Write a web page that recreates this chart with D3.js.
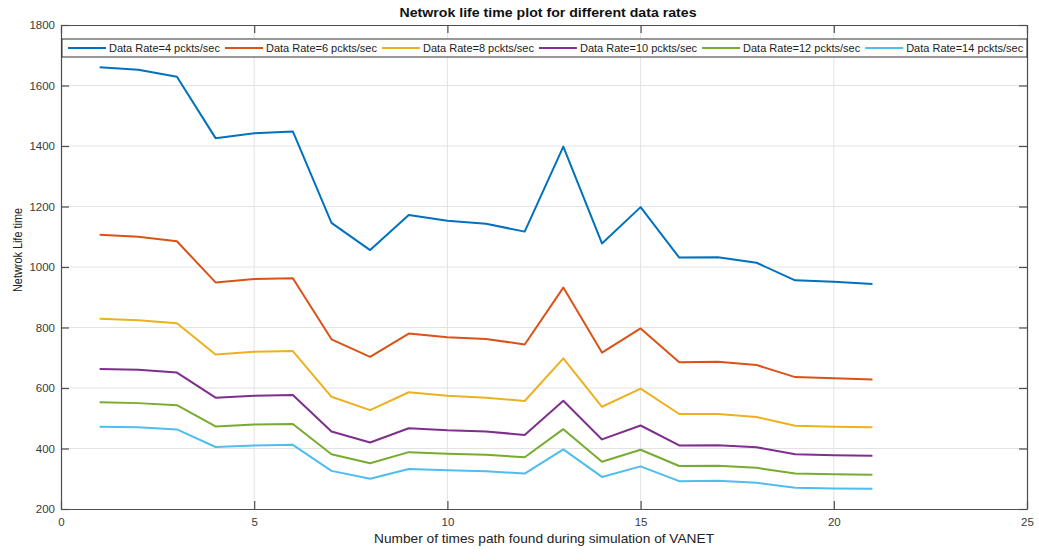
<!DOCTYPE html>
<html>
<head>
<meta charset="utf-8">
<script src="https://cdn.jsdelivr.net/npm/d3@7"></script>
<style>
  body { margin: 0; background: #fff; }
  text { font-family: "Liberation Sans", Arial, sans-serif; }
</style>
</head>
<body>
<svg id="chart" width="1039" height="560"></svg>
<script>
// Path-discovery index (x axis)
const runs = d3.range(1, 22);

// Network life time for each data rate
const rate4  = [1660, 1652, 1629, 1426, 1442, 1448, 1146, 1056, 1172, 1153, 1143, 1117, 1398, 1078, 1198, 1031, 1032, 1014, 956, 951, 944];
const rate6  = [1107, 1100, 1085, 949, 960, 963, 761, 703, 780, 768, 762, 744, 932, 717, 797, 685, 687, 676, 636, 632, 628];
const rate8  = [829, 824, 814, 711, 720, 722, 571, 527, 586, 574, 568, 557, 698, 538, 598, 514, 514, 504, 475, 472, 470];
const rate10 = [663, 660, 651, 568, 574, 577, 456, 420, 467, 460, 456, 445, 558, 430, 476, 410, 411, 404, 381, 378, 376];
const rate12 = [553, 550, 543, 473, 479, 481, 381, 351, 388, 383, 379, 371, 464, 356, 396, 342, 343, 336, 317, 315, 313];
const rate14 = [472, 470, 463, 405, 410, 412, 326, 300, 332, 328, 325, 317, 397, 306, 341, 292, 293, 287, 270, 268, 267];

const seriesNames = [
  "Data Rate=4 pckts/sec", "Data Rate=6 pckts/sec", "Data Rate=8 pckts/sec",
  "Data Rate=10 pckts/sec", "Data Rate=12 pckts/sec", "Data Rate=14 pckts/sec"
];
const seriesValues = [rate4, rate6, rate8, rate10, rate12, rate14];
const seriesColors = ["#0072BD", "#D95319", "#EDB120", "#7E2F8E", "#77AC30", "#4DBEEE"];

const xTicks = [0, 5, 10, 15, 20, 25];
const yTicks = [200, 400, 600, 800, 1000, 1200, 1400, 1600, 1800];

const titleText = "Netwrok life time plot for different data rates";
const xLabelText = "Number of times path found during simulation of VANET";
const yLabelText = "Netwrok Life time";

// Layout
const plotLeft = 61, plotRight = 1027, plotTop = 25, plotBottom = 509;
const axisColor = "#4d4d4d";
const gridColor = "#e3e3e3";
const tickLen = 8;

const svg = d3.select("#chart");

const x = d3.scaleLinear().domain([0, 25]).range([plotLeft, plotRight]);
const y = d3.scaleLinear().domain([200, 1800]).range([plotBottom, plotTop]);

// Grid lines
const grid = svg.append("g");
grid.selectAll("line.gx").data(xTicks.slice(1, -1)).join("line")
  .attr("class", "gx")
  .attr("x1", d => x(d)).attr("x2", d => x(d))
  .attr("y1", plotTop).attr("y2", plotBottom)
  .attr("stroke", gridColor).attr("stroke-width", 1);
grid.selectAll("line.gy").data(yTicks.slice(1, -1)).join("line")
  .attr("class", "gy")
  .attr("x1", plotLeft).attr("x2", plotRight)
  .attr("y1", d => y(d)).attr("y2", d => y(d))
  .attr("stroke", gridColor).attr("stroke-width", 1);

// Axes with inward ticks on all four sides
function styleAxis(g) {
  g.select(".domain").attr("stroke", axisColor).attr("stroke-width", 1.2);
  g.selectAll(".tick line").attr("stroke", axisColor).attr("stroke-width", 1.2);
  g.selectAll(".tick text").attr("fill", "#3a3a3a").attr("font-size", 11.5)
    .attr("font-family", "'Liberation Sans', Arial, sans-serif");
}

svg.append("g").attr("transform", `translate(0,${plotBottom})`)
  .call(d3.axisBottom(x).tickValues(xTicks).tickFormat(d3.format("d"))
    .tickSizeInner(-tickLen).tickSizeOuter(0).tickPadding(9))
  .call(styleAxis);
svg.append("g").attr("transform", `translate(0,${plotTop})`)
  .call(d3.axisTop(x).tickValues(xTicks).tickFormat("")
    .tickSizeInner(-tickLen).tickSizeOuter(0))
  .call(styleAxis);
svg.append("g").attr("transform", `translate(${plotLeft},0)`)
  .call(d3.axisLeft(y).tickValues(yTicks).tickFormat(d3.format("d"))
    .tickSizeInner(-tickLen).tickSizeOuter(0).tickPadding(6))
  .call(styleAxis);
svg.append("g").attr("transform", `translate(${plotRight},0)`)
  .call(d3.axisRight(y).tickValues(yTicks).tickFormat("")
    .tickSizeInner(-tickLen).tickSizeOuter(0))
  .call(styleAxis);

// Series lines
const line = d3.line().x((d, i) => x(runs[i])).y(d => y(d));
svg.append("g").selectAll("path").data(seriesValues).join("path")
  .attr("d", line)
  .attr("fill", "none")
  .attr("stroke", (d, i) => seriesColors[i])
  .attr("stroke-width", 2)
  .attr("stroke-linejoin", "round");

// Legend across the top of the axes
const legTop = 39, legBottom = 57;
const legend = svg.append("g");
legend.append("rect")
  .attr("x", plotLeft + 1).attr("y", legTop)
  .attr("width", plotRight - plotLeft - 1).attr("height", legBottom - legTop)
  .attr("fill", "#fff").attr("stroke", "#333").attr("stroke-width", 1);

let cursor = 68;
const legMid = (legTop + legBottom) / 2;
seriesNames.forEach((name, i) => {
  legend.append("line")
    .attr("x1", cursor).attr("x2", cursor + 38)
    .attr("y1", legMid).attr("y2", legMid)
    .attr("stroke", seriesColors[i]).attr("stroke-width", 2);
  const t = legend.append("text")
    .attr("x", cursor + 41).attr("y", legMid + 4)
    .attr("font-size", 11).attr("fill", "#222")
    .text(name);
  cursor += 38 + 3 + t.node().getComputedTextLength() + 5;
});

// Title and axis labels
svg.append("text")
  .attr("x", 548).attr("y", 17)
  .attr("text-anchor", "middle")
  .attr("font-size", 12.5).attr("font-weight", "bold").attr("fill", "#111")
  .attr("textLength", 297).attr("lengthAdjust", "spacingAndGlyphs")
  .text(titleText);

svg.append("text")
  .attr("x", (plotLeft + plotRight) / 2).attr("y", 543)
  .attr("text-anchor", "middle")
  .attr("font-size", 13).attr("fill", "#222")
  .attr("textLength", 340).attr("lengthAdjust", "spacingAndGlyphs")
  .text(xLabelText);

svg.append("text")
  .attr("transform", "translate(22,250) rotate(-90)")
  .attr("text-anchor", "middle")
  .attr("font-size", 13).attr("fill", "#222")
  .attr("textLength", 84).attr("lengthAdjust", "spacingAndGlyphs")
  .text(yLabelText);
</script>
</body>
</html>
